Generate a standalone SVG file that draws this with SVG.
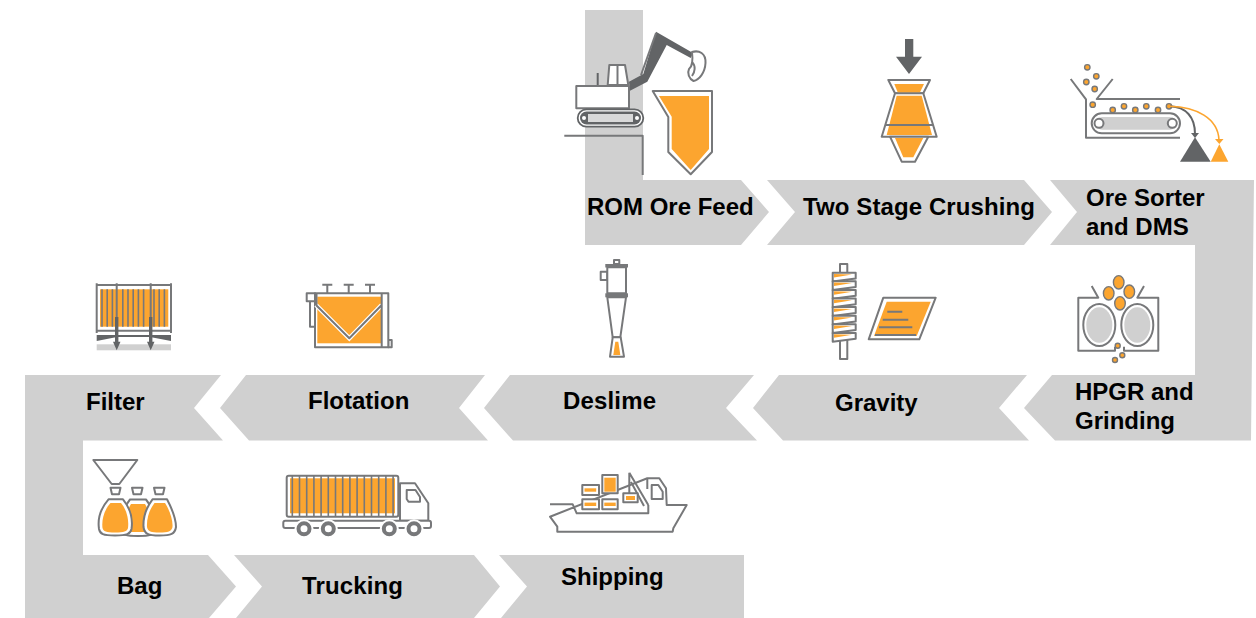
<svg xmlns="http://www.w3.org/2000/svg" width="1256" height="618" viewBox="0 0 1256 618">
<defs><style>
.band{fill:#d0d0d0}
.t{font-family:"Liberation Sans",Arial,sans-serif;font-weight:700;font-size:24px;fill:#000}
.g{fill:none;stroke:#77787a;stroke-width:2;stroke-linejoin:round}
.gw{fill:#fff;stroke:#77787a;stroke-width:2;stroke-linejoin:round}
.gg{fill:#d0d0d0;stroke:none}
.o{fill:#fca52f}
.dg{fill:#626466}
.ds{fill:none;stroke:#626466;stroke-width:2}
.ball{fill:#fca52f;stroke:#77787a;stroke-width:1.4}
.bar{stroke:#77787a;stroke-width:1.6}
.halo{stroke:#fff;stroke-width:3.2}
.w{fill:#fff}
.r{fill:#fff;stroke:#77787a;stroke-width:4}
</style></defs>
<g id="connectors"></g>
<g id="rom">
<path class="band" d="M585 10H643V180H741L769 212 741 245H585Z"/>
<path class="g" d="M564.300 135.700H642.700V175"/>
<path class="dg" d="M629 81.700 643.300 74 656 31.700 693 53 690.700 58 666.700 45 647.300 81.700 630 90.700Z"/>
<path class="g" d="M656 33 641 75"/>
<path class="gw" d="M692 52C699 50 706 53 705.500 63 705 73 699 80 693.500 81 689 79 687 73 689 69 693 66 693 60 692 52Z"/>
<path class="g" d="M692 62C696 66 695 72 692 76"/>
<path class="gw" d="M607.700 85 609.300 65H625L628.300 85Z"/>
<path class="g" d="M617.500 65V85"/>
<path class="ds" d="M597.700 73V85"/>
<rect class="gw" x="576.300" y="86" width="52.700" height="22.300"/>
<rect x="577.700" y="109.300" width="65.600" height="17.400" rx="8.700" fill="#fff" stroke="#626466" stroke-width="1.800"/>
<rect x="580" y="111.500" width="61" height="13" rx="6.500" fill="#626466"/>
<rect x="588" y="114" width="45" height="8" fill="#d9d9d9"/>
<circle class="w" cx="584" cy="118" r="2"/><circle class="w" cx="637" cy="118" r="2"/>
<path class="gw" d="M652.700 91H712V152L690.700 174.300 668.300 152V117Z"/>
<path class="o" d="M659 96H709V149L690.700 170 671.700 149V116.700Z"/>
<text class="t" x="587" y="215">ROM Ore Feed</text>
</g>
<g id="crushing">
<path class="band" d="M767 180H1024L1052 212 1024 245H767L795 212Z"/>
<path class="dg" d="M905 39H913.300V56.700H922L909 74 896 56.700H905Z"/>
<path class="gw" d="M888.300 80H930L923.300 93.300H895Z"/>
<path class="gw" d="M895 93.300H923.300L936.700 136.700H881.700Z"/>
<path class="gw" d="M890 136.700H928.300L915 161.700H901.700Z"/>
<path class="o" d="M894.300 84H924L920 92.300H897.700Z"/>
<path class="o" d="M896.700 95.700H921.700L932 135H886.700Z"/>
<path class="o" d="M895 138H923.300L913.300 157.300H903.300Z"/>
<path class="g" d="M885.500 125H933"/>
<text class="t" x="803" y="215" textLength="232">Two Stage Crushing</text>
</g>
<g id="sorter">
<path class="band" d="M1050 180H1254L1251 440.500H1055L1024 408 1052 375H1195V245H1050L1077 212Z"/>
<path class="g" d="M1070.700 79 1086 99.300V137.700H1180M1112.700 79 1096.700 99H1180"/>
<rect class="gw" x="1091.700" y="113.300" width="88.300" height="20" rx="10"/>
<rect class="gg" x="1096" y="117" width="80" height="12.700" rx="6.300"/>
<circle class="gw" cx="1099" cy="123.300" r="4.500"/><circle class="gw" cx="1172.300" cy="123.300" r="4.500"/>
<g>
<circle class="ball" cx="1087.300" cy="67.300" r="2.700"/><circle class="ball" cx="1096.300" cy="76.300" r="2.700"/><circle class="ball" cx="1086.300" cy="82" r="2.700"/><circle class="ball" cx="1094.700" cy="89" r="2.700"/><circle class="ball" cx="1092.700" cy="104.700" r="2.700"/><circle class="ball" cx="1112.700" cy="110" r="2.700"/><circle class="ball" cx="1124" cy="106.300" r="2.700"/><circle class="ball" cx="1135.300" cy="110" r="2.700"/><circle class="ball" cx="1146.300" cy="106.300" r="2.700"/><circle class="ball" cx="1158" cy="110" r="2.700"/><circle class="ball" cx="1169" cy="106.300" r="2.700"/>
</g>
<path class="ds" d="M1170 106.300C1186 107 1195 117 1195 134"/>
<path class="dg" d="M1191 133H1199L1195 138Z"/>
<path d="M1170 106.300C1196 107 1218 118 1219 140" fill="none" stroke="#fca52f" stroke-width="1.600"/>
<path class="o" d="M1215 139H1223.500L1219.300 144Z"/>
<path class="dg" d="M1195 137.300 1210.700 161.700H1180Z"/>
<path class="o" d="M1219.300 144.300 1228.300 161.700H1210.700Z"/>
<text class="t" x="1086" y="206">Ore Sorter</text>
<text class="t" x="1086" y="235">and DMS</text>
</g>
<g id="hpgr">
<path class="g" d="M1091.700 286 1098.300 297.700H1078.300V350.700H1115V346.700M1144 286 1137.300 297.700H1158.300V350.700H1124V346.700"/>
<ellipse class="gw" cx="1099.300" cy="325" rx="16" ry="21"/><ellipse class="gg" cx="1099.300" cy="325" rx="13" ry="17.800"/>
<ellipse class="gw" cx="1137.300" cy="325" rx="16" ry="21"/><ellipse class="gg" cx="1137.300" cy="325" rx="13" ry="17.800"/>
<ellipse class="ball" cx="1118.700" cy="282.300" rx="5.300" ry="6.700"/><ellipse class="ball" cx="1108.700" cy="293.300" rx="5.300" ry="6.700"/><ellipse class="ball" cx="1129.300" cy="291.700" rx="5.300" ry="6.700"/><ellipse class="ball" cx="1120" cy="303.300" rx="5.300" ry="6.700"/>
<circle class="ball" cx="1117.700" cy="345.700" r="2.500"/><circle class="ball" cx="1122.300" cy="355.300" r="2.500"/><circle class="ball" cx="1115" cy="360" r="2.500"/>
<text class="t" x="1075" y="400">HPGR and</text>
<text class="t" x="1075" y="429">Grinding</text>
</g>
<g id="gravity">
<path class="band" d="M779 375H1027L999 408 1029 440.500H783L753 408Z"/>
<rect class="gw" x="840" y="264" width="7.300" height="95"/>
<g id="spiral">
<path class="gw" d="M832.700 272.700 855.700 272.700V278.500L832.700 281.500Z"/><path class="o" d="M834 274 852 274.500 834 277.500Z"/>
<path class="gw" d="M832.700 281.300 855.700 281.300V287.100L832.700 290.100Z"/><path class="o" d="M834 282.600 852 283.100 834 286.100Z"/>
<path class="gw" d="M832.700 289.900 855.700 289.900V295.700L832.700 298.700Z"/><path class="o" d="M834 291.200 852 291.700 834 294.700Z"/>
<path class="gw" d="M832.700 298.500 855.700 298.500V304.300L832.700 307.300Z"/><path class="o" d="M834 299.800 852 300.300 834 303.300Z"/>
<path class="gw" d="M832.700 307.100 855.700 307.100V312.900L832.700 315.900Z"/><path class="o" d="M834 308.400 852 308.900 834 311.900Z"/>
<path class="gw" d="M832.700 315.700 855.700 315.700V321.500L832.700 324.500Z"/><path class="o" d="M834 317 852 317.500 834 320.500Z"/>
<path class="gw" d="M832.700 324.300 855.700 324.300V330.100L832.700 333.100Z"/><path class="o" d="M834 325.600 852 326.100 834 329.100Z"/>
<path class="gw" d="M832.700 332.900 855.700 332.900V338.700L832.700 341.700Z"/><path class="o" d="M834 334.200 852 334.700 834 337.700Z"/>
</g>
<path class="gw" d="M883.300 297.700H935.700L919.300 339.300H868.700Z"/>
<path class="o" d="M886.700 301.700H930.700L916.700 336H874Z"/>
<path class="g" d="M887.300 311.700H902.300M882.700 319.700H908.300M879 327.300H912.300M875 335H916"/>
<text class="t" x="835" y="411">Gravity</text>
</g>
<g id="deslime">
<path class="band" d="M510 375H754L726 408 757 440.500H513L484 408Z"/>
<path class="gw" d="M614 260H619.300V264H614Z"/>
<path class="gw" d="M600.700 271.700H607.300V280H600.700Z"/>
<rect class="gw" x="607.300" y="267.300" width="18.700" height="26"/>
<rect x="605.300" y="264" width="22.700" height="3.500" fill="#77787a"/>
<rect x="605.300" y="293.300" width="22.700" height="4" fill="#77787a"/>
<path class="gw" d="M607.300 297.300H626L620.300 337.300H612.700Z"/>
<path class="gw" d="M612.700 337.300H620.700L624 356.700H610Z"/>
<path class="o" d="M615.300 341.700H618.300L620.300 355H613.300Z"/>
<text class="t" x="563" y="409" textLength="93">Deslime</text>
</g>
<g id="flotation">
<path class="band" d="M246 375H485L459 408 488 440.500H249L220 408Z"/>
<path class="g" d="M322.300 284.700H332.300M327.300 284.700V293.300M343.700 284.700H353.700M348.700 284.700V293.300M365 284.700H375M370 284.700V293.300"/>
<rect class="gw" x="310" y="300" width="5" height="26.700"/>
<rect class="gw" x="306.700" y="293.300" width="8.300" height="8"/>
<rect class="gw" x="388.300" y="340" width="3.400" height="7.300"/>
<rect class="gw" x="315" y="293.300" width="73.300" height="54"/>
<rect class="o" x="317.300" y="296.700" width="63.700" height="46.600"/>
<path d="M316 305 349.300 338.300 381.700 305" fill="none" stroke="#fff" stroke-width="4.500"/>
<path class="g" d="M316 305 349.300 338.300 381.700 305M381.700 293.300V347.300M316.500 293.300V305"/>
<text class="t" x="308" y="409">Flotation</text>
</g>
<g id="filter">
<path class="band" d="M25 375H221L194 408 223 440.500H83V555H208L236 586.500 209 618H25Z"/>
<rect class="o" x="100" y="289.300" width="68.300" height="37.400"/>
<path class="bar" d="M102 289.300V326.700M107.200 289.300V326.700M112.400 289.300V326.700M122.800 289.300V326.700M128 289.300V326.700M133.200 289.300V326.700M138.400 289.300V326.700M143.600 289.300V326.700M154 289.300V326.700M159.200 289.300V326.700M164.400 289.300V326.700"/>
<path class="g" d="M96.700 285H171M96.700 330.700H171M96.700 283.300V333M116.700 283.300V333M150.700 283.300V333M171 283.300V333"/>
<path class="dg" d="M96.700 335H171V341L150 337H117L96.700 341Z"/>
<rect class="gg" x="96.700" y="344.300" width="74.300" height="6"/>
<path class="dg" d="M115 317H118.400V341.700H120.500L116.700 350.300 113 341.700H115Z"/>
<path class="dg" d="M149 317H152.400V341.700H154.500L150.700 350.300 147 341.700H149Z"/>
<text class="t" x="86" y="410">Filter</text>
</g>
<g id="bag">
<path class="g" d="M93.300 460H137.300L119.300 484H111.700Z"/>
<path class="gw" d="M110.500 487.700H120.500L119 494.300H112Z"/>
<path class="gw" d="M132 487.700H142.500L141 494.300H133.500Z"/>
<path class="gw" d="M154 487.700H164.500L163 494.300H155.500Z"/>
<path class="gw" d="M130 499.500H146C153 508 156 520 155 530 154 535 150 536 138 536 126 536 122 535 121 530 120 520 123 508 130 499.500Z"/>
<path class="o" d="M131 504H145C150 512 152 522 151 532H125C124 522 126 512 131 504Z"/>
<path class="gw" d="M108.500 499.300H123C130 508 133 519 131.500 529 130.500 534 127 535.500 115 535.500 103 535.500 100 534 99 529 97.500 519 101 508 108.500 499.300Z"/>
<path class="o" d="M110.500 503H121C127 510 129 520 128 528 127 531.500 124 532.500 115 532.500 106 532.500 103.500 531.500 102.500 528 101.500 520 104 510 110.500 503Z"/>
<path class="gw" d="M152.500 499.300H167C170 505 176 517 176 527 175 534 171 535.500 159.500 535.500 148 535.500 144.500 534 143.500 527 143 517 146 508 152.500 499.300Z"/>
<path class="o" d="M154.500 503H165C169 509 173 519 172.500 527 171.500 531.500 168 532.500 159.500 532.500 151 532.500 147.800 531.500 147 527 146.500 519 149 510 154.500 503Z"/>
<text class="t" x="117" y="594">Bag</text>
</g>
<g id="trucking">
<path class="band" d="M234 555H474L500 586.500 474 618H236L262 586.500Z"/>
<rect class="gw" x="286.700" y="475.700" width="111.600" height="41" rx="2"/>
<rect class="o" x="290" y="478.300" width="105" height="35"/>
<path class="bar" d="M292.300 476V516.700M299.500 476V516.700M306.700 476V516.700M313.900 476V516.700M321.100 476V516.700M328.300 476V516.700M335.500 476V516.700M342.700 476V516.700M349.900 476V516.700M357.100 476V516.700M364.300 476V516.700M371.500 476V516.700M378.700 476V516.700M385.900 476V516.700M393.100 476V516.700"/>
<path class="gw" d="M400 483.300H415L428.300 503.300V520.700H400Z"/>
<rect class="gw" x="283.300" y="520.700" width="147.700" height="7.300" rx="2"/>
<path class="g" d="M406.700 490H415.500L420 497V501.700H408.500L406.700 499Z"/>
<circle class="w" cx="304" cy="528.700" r="9.500"/><circle class="w" cx="328.300" cy="528.700" r="9.500"/><circle class="w" cx="389.300" cy="528.700" r="9.500"/><circle class="w" cx="414" cy="528.700" r="9.500"/>
<circle class="r" cx="304" cy="528.700" r="5.500"/><circle class="r" cx="328.300" cy="528.700" r="5.500"/><circle class="r" cx="389.300" cy="528.700" r="5.500"/><circle class="r" cx="414" cy="528.700" r="5.500"/>
<text class="t" x="302" y="594" textLength="101">Trucking</text>
</g>
<g id="shipping">
<path class="band" d="M499 555H744V618H501L527 586.500Z"/>
<path class="g" d="M550 504.300H572.700L576.700 513.300H648.300V505M647.300 478.300H659.300L666 488.300 666.700 505H686.700L673.300 528.300 672.700 531.700H557.300V526.700L550 516.700Z"/>
<path class="g" d="M647.300 478.300V489M651.700 485H658.300L662.700 491.700V499H651.700Z"/>
<path class="g" d="M629.300 472.700V493.300M629.300 472.700 648.300 505M631 482 644 506"/>
<rect class="gw" x="582.300" y="485" width="16.700" height="10"/><rect class="o" x="584.500" y="488.300" width="11.700" height="3.400"/>
<rect class="gw" x="582.300" y="499.300" width="16.700" height="10"/><rect class="o" x="584.500" y="502.600" width="11.700" height="3.400"/>
<rect class="gw" x="602.300" y="499.300" width="15.400" height="10"/><rect class="o" x="604.300" y="502.600" width="11.400" height="3.400"/>
<rect class="gw" x="602.300" y="475" width="15.400" height="18.300"/><rect class="o" x="604.300" y="477.700" width="11.400" height="14"/>
<rect class="gw" x="623.300" y="493.300" width="14.400" height="9"/><rect class="o" x="626" y="496" width="9" height="4"/>
<text class="t" x="561" y="585">Shipping</text>
</g>
</svg>
